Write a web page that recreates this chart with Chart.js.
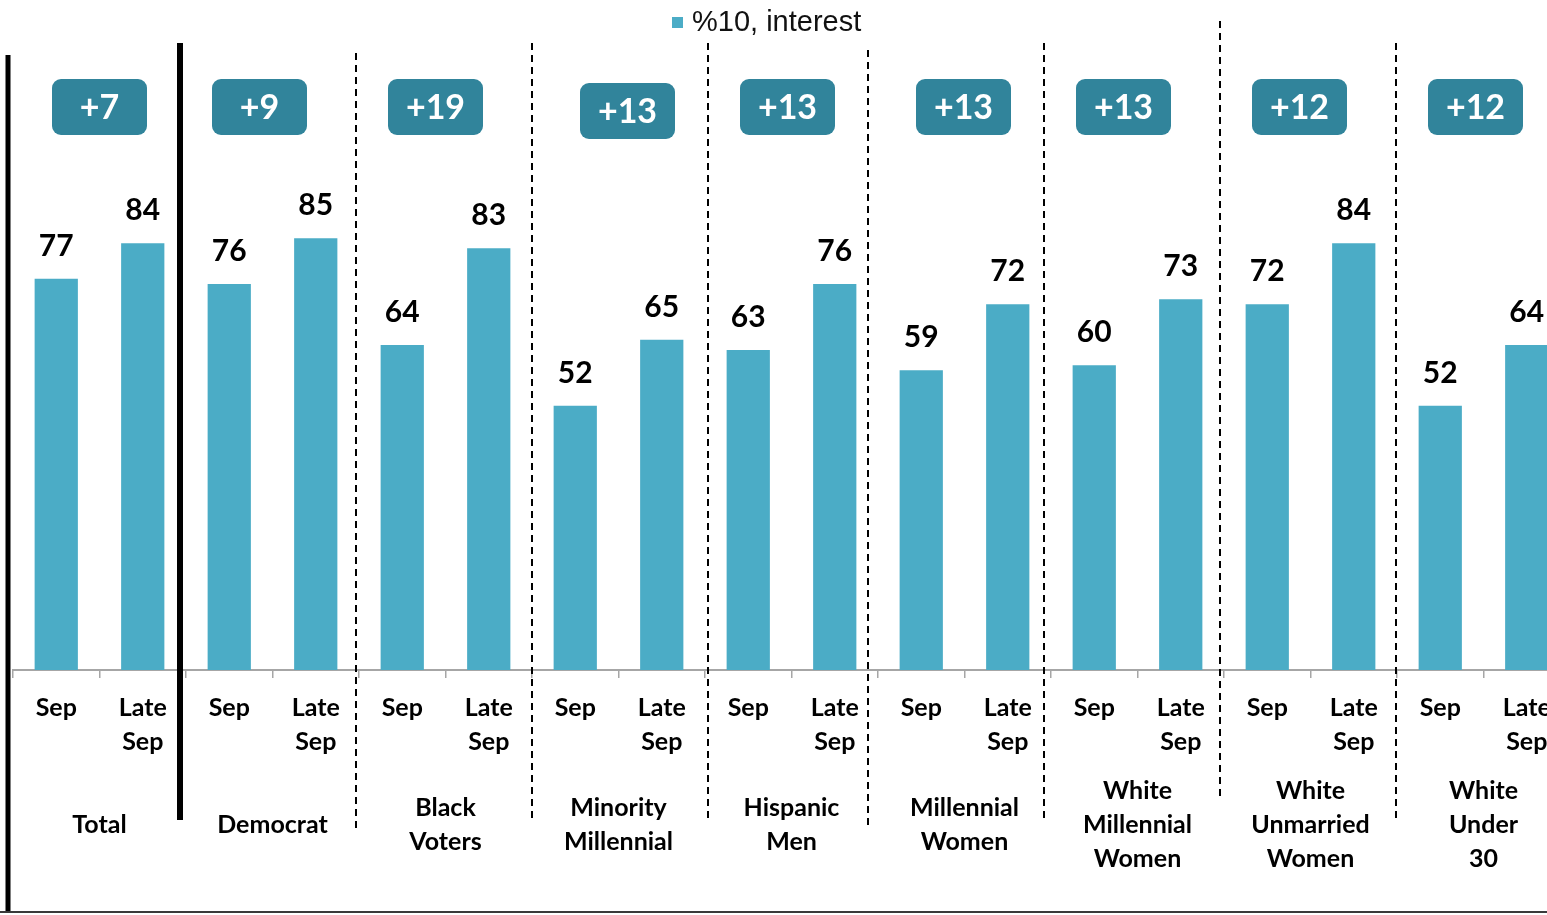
<!DOCTYPE html>
<html>
<head>
<meta charset="utf-8">
<script src="https://cdn.jsdelivr.net/npm/chart.js@4.4.0/dist/chart.umd.min.js"></script>
<style>
  html, body { margin: 0; padding: 0; background: #fff; overflow: hidden; }
  #wrap { position: relative; width: 1600px; height: 915px; }
</style>
</head>
<body>
<div id="wrap"><canvas id="chart" width="1600" height="915"></canvas></div>
<script>
// --- data ---
const GROUPS = [
  ['Total'], ['Democrat'], ['Black', 'Voters'], ['Minority', 'Millennial'],
  ['Hispanic', 'Men'], ['Millennial', 'Women'], ['White', 'Millennial', 'Women'],
  ['White', 'Unmarried', 'Women'], ['White', 'Under', '30']
];
const PERIODS = [['Sep'], ['Late', 'Sep']];
const SEP = [77, 76, 64, 52, 63, 59, 60, 72, 52];
const LATE_SEP = [84, 85, 83, 65, 76, 72, 73, 84, 64];
const DELTAS = ['+7', '+9', '+19', '+13', '+13', '+13', '+13', '+12', '+12'];
const SERIES_NAME = '%10, interest';

// --- look ---
const BAR_COLOR = '#4BACC6';
const BOX_COLOR = '#31849B';
const LABEL_FONT = 'Lato, "Noto Sans", sans-serif';

// small hand nudges so boxes / dividers sit where the original put them
const BOX_NUDGE = [[0, 0], [-13, 0], [-10, 0], [9, 4], [-4, 0], [-1, 0], [-14, 0], [-11, 0], [-8, 0]];
const DIVIDERS = [
  { at: 0,  solid: true,  top: 55, bottom: 913, dx: -5, w: 5 },
  { at: 2,  solid: true,  top: 43, bottom: 820, dx: -6, w: 6 },
  { at: 4,  solid: false, top: 53, bottom: 830, dx: -3, w: 2 },
  { at: 6,  solid: false, top: 43, bottom: 820, dx: 0,  w: 2 },
  { at: 8,  solid: false, top: 43, bottom: 820, dx: 3,  w: 2 },
  { at: 10, solid: false, top: 50, bottom: 826, dx: -10, w: 2 },
  { at: 12, solid: false, top: 43, bottom: 820, dx: -7, w: 2 },
  { at: 14, solid: false, top: 21, bottom: 800, dx: -4, w: 2 },
  { at: 16, solid: false, top: 43, bottom: 820, dx: -1, w: 2 },
];

const labels = [];
const values = [];
GROUPS.forEach((g, i) => {
  labels.push(PERIODS[0], PERIODS[1]);
  values.push(SEP[i], LATE_SEP[i]);
});

const overlay = {
  id: 'overlay',
  afterDatasetsDraw(chart) {
    const ctx = chart.ctx;
    const meta = chart.getDatasetMeta(0);
    ctx.save();
    ctx.fillStyle = '#000';
    ctx.font = 'bold 30px ' + LABEL_FONT;
    ctx.textAlign = 'center';
    ctx.textBaseline = 'alphabetic';
    meta.data.forEach((bar, i) => {
      ctx.fillText(String(values[i]), bar.x, bar.y - 23);
    });
    ctx.restore();
  },
  afterDraw(chart) {
    const ctx = chart.ctx;
    const x = chart.scales.x;
    const half = (x.getPixelForValue(1) - x.getPixelForValue(0)) / 2;
    ctx.save();

    // delta boxes
    DELTAS.forEach((d, g) => {
      const cx = (x.getPixelForValue(2 * g) + x.getPixelForValue(2 * g + 1)) / 2 + BOX_NUDGE[g][0];
      const top = 79 + BOX_NUDGE[g][1];
      ctx.fillStyle = BOX_COLOR;
      ctx.beginPath();
      ctx.roundRect(cx - 47.5, top, 95, 56, 9);
      ctx.fill();
      ctx.fillStyle = '#fff';
      ctx.font = 'bold 34px ' + LABEL_FONT;
      ctx.textAlign = 'center';
      ctx.textBaseline = 'middle';
      ctx.fillText(d, cx, top + 29);
    });

    // group dividers
    ctx.strokeStyle = '#000';
    DIVIDERS.forEach(dv => {
      const px = x.getPixelForValue(dv.at) - half + dv.dx;
      ctx.lineWidth = dv.w;
      ctx.setLineDash(dv.solid ? [] : [7, 5]);
      ctx.beginPath();
      ctx.moveTo(px, dv.top);
      ctx.lineTo(px, dv.bottom);
      ctx.stroke();
    });
    ctx.setLineDash([]);

    // bottom rule
    ctx.fillStyle = '#3a3a3a';
    ctx.fillRect(0, 911, chart.width, 2);

    // legend
    ctx.fillStyle = BAR_COLOR;
    ctx.fillRect(672, 17, 11, 11);
    ctx.fillStyle = '#111';
    ctx.font = '29px "Liberation Sans", Arial, sans-serif';
    ctx.textAlign = 'left';
    ctx.textBaseline = 'middle';
    ctx.fillText(SERIES_NAME, 692, 23);
    ctx.restore();
  }
};

const tickFont = { family: LABEL_FONT, weight: 'bold', size: 25, lineHeight: 1.36 };

new Chart(document.getElementById('chart'), {
  type: 'bar',
  data: {
    labels,
    datasets: [{
      label: SERIES_NAME,
      data: values,
      backgroundColor: BAR_COLOR,
      barPercentage: 0.5,
      categoryPercentage: 1.0,
      xAxisID: 'x',
    }]
  },
  options: {
    responsive: false,
    animation: false,
    layout: { padding: { left: 13, right: 30, top: 162, bottom: 10 } },
    plugins: {
      legend: { display: false },
      tooltip: { enabled: false }
    },
    scales: {
      x: {
        type: 'category',
        position: 'bottom',
        weight: 1,
        offset: true,
        grid: { display: true, drawOnChartArea: false, drawTicks: true, tickLength: 8, color: '#A6A6A6', lineWidth: 1.5, offset: true },
        border: { display: true, color: '#A6A6A6', width: 2 },
        ticks: { color: '#000', font: tickFont, padding: 13, maxRotation: 0, autoSkip: false, crossAlign: 'near' },
        afterFit(s) { s.height = 95; }
      },
      x2: {
        type: 'category',
        position: 'bottom',
        weight: 2,
        labels: GROUPS,
        offset: true,
        grid: { display: false },
        border: { display: false },
        ticks: { color: '#000', font: tickFont, padding: 18, maxRotation: 0, autoSkip: false, crossAlign: 'center' },
        afterFit(s) { s.height = 140; }
      },
      y: { display: false, min: 0, max: 100 }
    }
  },
  plugins: [overlay]
});
</script>
</body>
</html>
